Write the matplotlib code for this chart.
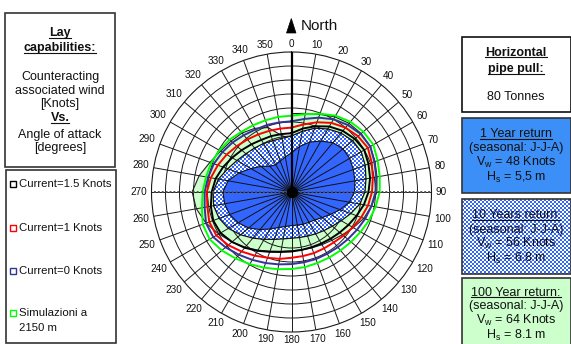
import numpy as np
import matplotlib
matplotlib.use('Agg')
import matplotlib.pyplot as plt
from matplotlib.patches import Rectangle, Polygon
from matplotlib.lines import Line2D

plt.rcParams['font.family'] = ['Liberation Sans', 'DejaVu Sans']

W, H = 571, 344

# ---------------- data ----------------
angles_deg = list(range(0, 360, 10))
angle_labels = [str(a) for a in angles_deg]

one_year = [28, 33, 38, 42, 46, 48, 48, 47, 46, 45, 42, 37, 32, 28.5, 26, 25, 24.5, 24,
            24, 25, 27, 30.5, 35, 40, 44, 47, 48.5, 49, 46, 40, 33.5, 28.5, 24, 22.5, 23.5, 25.5]
ten_year = [40, 44, 48.5, 52, 55, 57, 57.5, 56, 54, 52.5, 49.5, 45, 41, 38, 36, 34.5, 33.5, 33,
            33, 34, 36, 39, 43, 47.5, 52, 55, 56.5, 56, 53, 48.5, 45, 42.5, 41, 40, 39, 39]
hundred_deg = list(range(0, 370, 10))
hundred_year = [56, 57, 59, 62, 64, 65, 65, 63.5, 62, 61, 58, 55, 51, 47.5, 45, 43.5, 42.5, 42,
                42, 43, 45, 48, 51.5, 55.5, 60, 65, 69, 71, 67, 62, 58.5, 56.5, 55, 52.5, 49, 41, 38]
cur_15 = [42, 46, 50, 54, 57, 59, 60, 58.5, 57, 55, 52.5, 49.5, 47, 45, 43.5, 42.5, 42, 42,
          42.5, 43.5, 45.5, 48.5, 52, 55.5, 58.5, 59.5, 58.5, 57, 55, 52, 49, 46.5, 44.5, 43, 42.5, 42]
cur_1 = [46, 49, 53, 57, 60, 62, 63, 61, 59, 57.5, 55.5, 53, 50.5, 48.5, 47, 46.5, 46.5, 46.5,
         47, 48.5, 50, 52.5, 55.5, 59, 62, 62.5, 61, 60.5, 58.5, 56, 53.5, 51, 49, 47.5, 46.5, 46]
cur_0 = [50.5, 53, 56.5, 60, 62.5, 64.5, 65, 63, 61.5, 60, 58, 56, 54, 52.5, 51.5, 51, 51, 51,
         51.5, 52.5, 54, 56, 58.5, 61.5, 64.5, 65, 63, 62, 60.5, 59, 57, 55, 53, 51.5, 51, 50.5]
sim_2150 = [54.5, 56.5, 59.5, 63, 65.5, 67, 67.5, 65.5, 64, 63, 61, 59, 57, 55.5, 54.5, 54, 54, 54.5,
            55, 56, 57.5, 59.5, 62, 65, 67.5, 67.5, 65, 63.5, 62, 61, 59.5, 58, 56, 55, 54.5, 54.5]

series_labels = ['Current=1.5 Knots', 'Current=1 Knots', 'Current=0 Knots', 'Simulazioni a\n2150 m']

# ---------------- styling ----------------
BLUE = '#3366ff'
BLUE_RGB = np.array([0x33, 0x66, 0xff]) / 255.0
BOX_BLUE = '#3b8ff6'
LGREEN = '#ccffcc'
C15, C1, C0, CSIM = 'black', '#ff0000', '#333399', '#00ff00'
GRID = '#1a1a1a'

fig = plt.figure(figsize=(W / 100, H / 100), dpi=100)


def fx(x):
    return x / W


def fy(y):
    return 1 - y / H


cx, cy, R = 291.5, 192.0, 140.0
rect = [fx(cx - R), fy(cy + R), 2 * R / W, 2 * R / H]


def closed(deg, vals):
    th = np.deg2rad(list(deg) + [deg[0] + 360])
    return th, list(vals) + [vals[0]]


def setup(ax):
    ax.set_theta_zero_location('N')
    ax.set_theta_direction(-1)
    ax.set_ylim(0, 100)
    ax.set_xticks(np.deg2rad(angles_deg))
    ax.set_xticklabels([])
    ax.set_yticks(range(10, 100, 10))
    ax.set_yticklabels([])
    ax.tick_params(length=0)


# bottom polar layer: 100-year fill + grid
ax_b = fig.add_axes(rect, projection='polar', zorder=0, label='bottom')
setup(ax_b)
ax_b.set_axisbelow(False)
ax_b.grid(True, color=GRID, lw=0.7)
ax_b.spines['polar'].set_color(GRID)
ax_b.spines['polar'].set_linewidth(0.8)
ax_b.fill(np.deg2rad(hundred_deg), hundred_year, facecolor=LGREEN, edgecolor='#222222',
          lw=0.8, zorder=1)

# 10-year return: checker texture clipped to the polygon
th10, r10 = closed(angles_deg, ten_year)
clip_poly = Polygon(np.column_stack([th10, r10]), closed=True, transform=ax_b.transData)
yy, xx = np.mgrid[0:H, 0:W]
chk = ((xx // 2 + yy // 2) % 2).astype(bool)
img = np.ones((H, W, 3))
img[chk] = BLUE_RGB
im = fig.figimage(img, xo=0, yo=0, zorder=0.5)
im.set_clip_path(clip_poly)

# top polar layer
ax_t = fig.add_axes(rect, projection='polar', zorder=1, label='top')
setup(ax_t)
ax_t.patch.set_visible(False)
ax_t.grid(False)
ax_t.spines['polar'].set_visible(False)

th1, r1 = closed(angles_deg, one_year)
ax_t.fill(th1, r1, facecolor=BLUE, edgecolor='#111111', lw=0.8, zorder=1)
# radial spokes through the filled regions
for a, rv in zip(angles_deg, ten_year):
    t = np.deg2rad(a)
    ax_t.plot([t, t], [0, rv], color='#111111', lw=0.7, zorder=1.3)
ax_t.plot(th10, r10, color='#111111', lw=0.9, zorder=1.4)

for vals, col in [(sim_2150, CSIM), (cur_0, C0), (cur_1, C1), (cur_15, C15)]:
    th, rr = closed(angles_deg, vals)
    ax_t.plot(th, rr, color=col, lw=1.4, zorder=2)

ax_t.plot([np.pi / 2, np.pi / 2], [0, 100], color='#555555', lw=1.4, ls=(0, (1, 1)), zorder=2.4)
ax_t.plot([3 * np.pi / 2, 3 * np.pi / 2], [0, 100], color='#555555', lw=1.4, ls=(0, (1, 1)), zorder=2.4)
ax_t.plot([0, 0], [0, 100], color='black', lw=1.6, zorder=2.5)
ax_t.plot([0], [0], 'o', color='black', ms=7, zorder=3)

fs_lab = 7.2
fs_px = fs_lab * 100 / 72
for a, s in zip(angles_deg, angle_labels):
    t = np.deg2rad(a)
    sn, cs = np.sin(t), np.cos(t)
    w = len(s) * 0.556 * fs_px
    h = 0.72 * fs_px
    d = 4.5 + 0.5 * (abs(sn) * w + abs(cs) * h)
    ax_t.annotate(s, xy=(t, 100), xytext=(d * sn * 0.72, d * cs * 0.72),
                  textcoords='offset points', ha='center', va='center',
                  fontsize=fs_lab, annotation_clip=False, color='#111111')

# ---------------- figure-level decorations ----------------
underlined = []


def T(x, y, s, size=9, bold=False, underline=False, ha='center'):
    t = fig.text(fx(x), fy(y), s, ha=ha, va='center', fontsize=size,
                 fontweight='bold' if bold else 'normal', color='#111111', zorder=3)
    if underline:
        underlined.append(t)
    return t


def box(x0, y0, x1, y1, fc='none', ec='#333333', lw=1.2):
    fig.add_artist(Rectangle((fx(x0), fy(y1)), (x1 - x0) / W, (y1 - y0) / H,
                             transform=fig.transFigure, facecolor=fc, edgecolor=ec, lw=lw, zorder=1))


# left info box
box(5, 13, 115, 167)
T(60, 33, 'Lay', bold=True, underline=True)
T(60, 48, 'capabilities:', bold=True, underline=True)
T(60, 77, 'Counteracting')
T(60, 91, 'associated wind')
T(60, 104, '[Knots]')
T(60, 118, 'Vs.', bold=True, underline=True)
T(60, 135, 'Angle of attack')
T(60, 148, '[degrees]')

# legend box
box(6, 170, 116, 343)
leg_y = [184, 228, 271, 313]
for yv, col, lab in zip(leg_y, [C15, C1, C0, CSIM], series_labels):
    fig.add_artist(Line2D([fx(12.7)], [fy(yv)], marker='s', ms=4.5, mew=1.0, mfc='white',
                          mec=col, transform=fig.transFigure, zorder=3))
    for i, ln in enumerate(lab.split('\n')):
        T(19, yv + i * 15, ln, size=8.2, ha='left')

# North arrow
fig.add_artist(Polygon([(fx(286.5), fy(33)), (fx(291.3), fy(18.5)), (fx(296), fy(33))],
                       closed=True, transform=fig.transFigure, facecolor='black',
                       edgecolor='black', lw=0.5, zorder=3))
T(301, 25.5, 'North', size=11, ha='left')

# right boxes
bx = 516
box(461.7, 36.7, 570.5, 111.7, ec='#111111')
T(bx, 52.7, 'Horizontal', bold=True, underline=True)
T(bx, 69, 'pipe pull:', bold=True, underline=True)
T(bx, 96.7, '80 Tonnes')

box(461.7, 118, 570.5, 193, fc=BOX_BLUE)
T(bx, 134, '1 Year return', underline=True)
T(bx, 148.5, '(seasonal: J-J-A)')
T(bx, 162.5, r'V$_\mathregular{w}$ = 48 Knots')
T(bx, 177, r'H$_\mathregular{s}$ = 5,5 m')

# checker texture for the 10-year box
cb_x0, cb_y0, cb_x1, cb_y1 = 462, 199, 571, 274
bh, bw = cb_y1 - cb_y0, cb_x1 - cb_x0
by, bxx = np.mgrid[0:bh, 0:bw]
bchk = ((bxx // 2 + by // 2) % 2).astype(bool)
bimg = np.ones((bh, bw, 3))
bimg[bchk] = BLUE_RGB
fig.figimage(bimg, xo=cb_x0, yo=H - cb_y1, zorder=0.5)
box(461.7, 199, 570.5, 274)
T(bx, 215.5, '10 Years return:', underline=True)
T(bx, 229.5, '(seasonal: J-J-A)')
T(bx, 243.5, r'V$_\mathregular{w}$ = 56 Knots')
T(bx, 258.5, r'H$_\mathregular{s}$ = 6.8 m')

box(461.7, 278, 570.5, 346, fc=LGREEN)
T(bx, 292.5, '100 Year return:', underline=True)
T(bx, 306.5, '(seasonal: J-J-A)')
T(bx, 320.5, r'V$_\mathregular{w}$ = 64 Knots')
T(bx, 335.5, r'H$_\mathregular{s}$ = 8.1 m')

# underlines
fig.canvas.draw()
renderer = fig.canvas.get_renderer()
for t in underlined:
    bb = t.get_window_extent(renderer)
    yl = (bb.y0 + 1.3) / H
    fig.add_artist(Line2D([bb.x0 / W, bb.x1 / W], [yl, yl], color='#111111', lw=0.8,
                          transform=fig.transFigure, zorder=3))

fig.savefig('out.png', dpi=100)
